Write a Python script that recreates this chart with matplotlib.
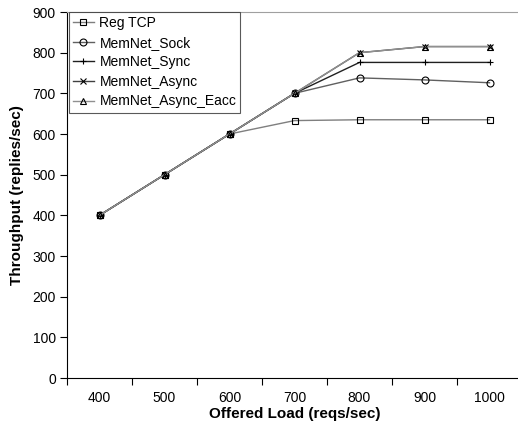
import matplotlib
matplotlib.use("Agg")
import matplotlib.pyplot as plt
import numpy as np

plt.rcParams['font.family'] = ['Liberation Sans', 'DejaVu Sans']

loads = ['400', '500', '600', '700', '800', '900', '1000']
reg_tcp = [400, 500, 600, 633, 635, 635, 635]
memnet_sock = [400, 500, 600, 700, 738, 733, 726]
memnet_sync = [400, 500, 600, 700, 776, 776, 776]
memnet_async = [400, 500, 600, 700, 800, 815, 815]
memnet_async_eacc = [400, 500, 600, 700, 800, 815, 815]

series = [
    ('Reg TCP', reg_tcp, 's', '#7f7f7f'),
    ('MemNet_Sock', memnet_sock, 'o', '#606060'),
    ('MemNet_Sync', memnet_sync, '+', '#202020'),
    ('MemNet_Async', memnet_async, 'x', '#404040'),
    ('MemNet_Async_Eacc', memnet_async_eacc, '^', '#909090'),
]

fig = plt.figure(figsize=(5.18, 4.29), dpi=100)
ax = fig.add_axes([67 / 518, 51 / 429, 455 / 518, 366 / 429])

x = np.arange(len(loads))
for name, vals, mk, col in series:
    ax.plot(x, vals, color=col, lw=1.0, marker=mk, markersize=5,
            markerfacecolor='none', markeredgecolor='black',
            markeredgewidth=0.8, label=name)

ax.set_xlim(-0.5, len(loads) - 0.5)
ax.set_ylim(0, 900)
ax.set_yticks(range(0, 901, 100))
ax.set_xticks(x)
ax.set_xticklabels(loads)
ax.set_xticks(np.arange(-0.5, len(loads), 1.0), minor=True)
ax.tick_params(axis='x', which='major', length=0, pad=9, labelsize=10)
ax.tick_params(axis='x', which='minor', length=5, width=0.8, direction='out')
ax.tick_params(axis='y', length=5, width=0.8, direction='out', labelsize=10, pad=3)

ax.spines['left'].set_color('black')
ax.spines['bottom'].set_color('black')
ax.spines['top'].set_color('#a0a0a0')
ax.spines['right'].set_color('#a0a0a0')

ax.set_xlabel('Offered Load (reqs/sec)', fontweight='bold', fontsize=11, labelpad=2)
ax.set_ylabel('Throughput (replies/sec)', fontweight='bold', fontsize=11, labelpad=6)

leg = ax.legend(loc='upper left', bbox_to_anchor=(0.004, 1.0), fontsize=10,
                frameon=True, fancybox=False, borderpad=0.3, labelspacing=0.4,
                handlelength=1.5, handletextpad=0.4, borderaxespad=0)
leg.get_frame().set_edgecolor('#303030')
leg.get_frame().set_linewidth(0.8)

fig.savefig('out.png', dpi=100)
